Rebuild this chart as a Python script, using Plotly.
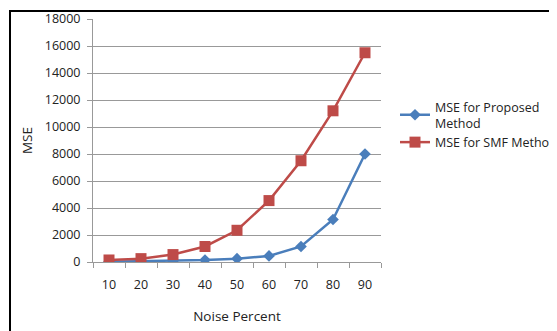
import plotly.graph_objects as go

noise = ["10", "20", "30", "40", "50", "60", "70", "80", "90"]
mse_proposed = [20, 50, 80, 150, 250, 450, 1150, 3150, 8000]
mse_smf = [150, 250, 550, 1150, 2350, 4550, 7500, 11200, 15500]

FONT = "Open Sans"
fig = go.Figure()
fig.add_trace(go.Scatter(x=noise, y=mse_proposed, mode="lines+markers",
                         name="MSE for Proposed<br>Method",
                         line=dict(color="#4A7EBB", width=2.5),
                         marker=dict(symbol="diamond", size=9, color="#4A7EBB")))
fig.add_trace(go.Scatter(x=noise, y=mse_smf, mode="lines+markers",
                         name="MSE for SMF Method",
                         line=dict(color="#BE4B48", width=2.5),
                         marker=dict(symbol="square", size=11, color="#BE4B48")))

# page body adds an 8px offset; layout numbers below are in figure pixels
L, R = 85, 373
T, B = 11, 254
W, H = 557, 331

def px2x(p):
    return (p - L) / (R - L)

def px2y(p):
    return (B - p) / (B - T)

fig.update_layout(
    width=W, height=H,
    margin=dict(l=L, r=W - R, t=T, b=H - B, autoexpand=False),
    paper_bgcolor="white", plot_bgcolor="white",
    font=dict(family=FONT, size=12, color="#222222"),
    showlegend=True,
    legend=dict(xref="container", yref="container",
                x=387 / W, y=1 - 84 / H, xanchor="left", yanchor="top",
                font=dict(size=12.5, family=FONT), tracegroupgap=2,
                bgcolor="rgba(0,0,0,0)"),
    xaxis=dict(type="category", range=[-0.5, 8.5], showgrid=False, automargin=False,
               showline=True, linecolor="#999999", linewidth=1,
               ticks="outside", tickson="boundaries", ticklen=5, tickcolor="#999999",
               ticklabelstandoff=11,
               title=dict(text="Noise Percent", font=dict(size=13.5), standoff=19),
               tickfont=dict(size=12.5), fixedrange=True),
    yaxis=dict(range=[0, 18000], dtick=2000, tickformat="d", showgrid=True,
               automargin=False, ticklabelstandoff=4,
               gridcolor="#999999", gridwidth=1, showline=True,
               linecolor="#999999", linewidth=1,
               ticks="outside", ticklen=5, tickcolor="#999999",
               zeroline=False, tickfont=dict(size=12.5),
               title=dict(text="MSE", font=dict(size=13.5), standoff=9)),
    shapes=[dict(type="rect", xref="paper", yref="paper",
                 x0=px2x(2), x1=px2x(620), y0=px2y(345), y1=px2y(3),
                 line=dict(color="black", width=2), layer="above")],
)

fig.write_html("out.html")
